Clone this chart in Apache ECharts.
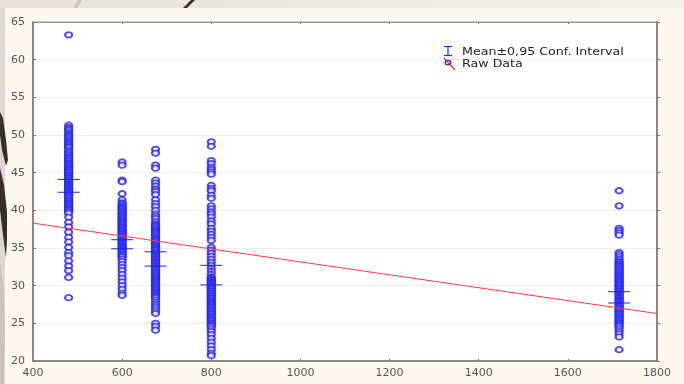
<!DOCTYPE html>
<html>
<head>
<meta charset="utf-8">
<script src="https://cdn.jsdelivr.net/npm/echarts@6/dist/echarts.min.js"></script>
<style>
  html, body { margin: 0; padding: 0; background: #e9e5e3; }
  #chart { width: 684px; height: 384px; }
</style>
</head>
<body>
<div id="chart"></div>
<script>
// Group positions on the x axis
const groupX = [480, 600, 675, 800, 1715];

// Raw observations per group
const raw480 = [63.3, 51.3, 51.0, 50.8, 50.6, 50.3, 50.1, 49.9, 49.7, 49.5, 49.3, 49.1, 48.9, 48.8, 48.6,
  48.4, 48.3, 48.0, 47.8, 47.6, 47.4, 47.2, 47.0, 46.9, 46.7, 46.5, 46.3, 46.2, 46.0, 45.9, 45.7, 45.6,
  45.4, 45.3, 45.1, 45.0, 44.8, 44.6, 44.5, 44.3, 44.2, 44.0, 43.9, 43.7, 43.5, 43.4, 43.2, 43.1, 42.9,
  42.8, 42.6, 42.4, 42.3, 42.1, 42.0, 41.8, 41.7, 41.5, 41.3, 41.2, 41.0, 40.9, 40.7, 40.6, 40.4, 40.3,
  40.1, 40.0, 39.8, 39.6, 39.1, 38.4, 37.8, 37.1, 36.4, 35.8, 35.1, 34.4, 34.0, 33.3, 32.6, 32.0, 31.1, 28.4];
const raw600 = [46.4, 46.0, 44.0, 43.8, 42.2, 41.4, 41.0, 40.9, 40.7, 40.5, 40.4, 40.2, 40.1, 39.9, 39.8,
  39.6, 39.5, 39.3, 39.2, 39.0, 38.9, 38.7, 38.6, 38.4, 38.3, 38.1, 38.0, 37.8, 37.7, 37.5, 37.4, 37.2,
  37.1, 36.9, 36.8, 36.6, 36.5, 36.3, 36.2, 36.0, 35.9, 35.7, 35.6, 35.4, 35.3, 35.1, 35.0, 34.8, 34.7,
  34.5, 34.4, 34.2, 34.1, 33.9, 33.8, 33.5, 33.2, 32.8, 32.4, 32.0, 31.5, 31.0, 30.5, 30.0, 29.5, 29.0, 28.7];
const raw675 = [48.1, 47.6, 46.0, 45.6, 44.0, 43.6, 43.2, 42.8, 42.5, 42.1, 41.4, 40.9, 40.5, 40.0, 39.5,
  39.2, 38.9, 38.5, 38.2, 38.0, 37.9, 37.7, 37.5, 37.3, 37.2, 37.0, 36.9, 36.7, 36.5, 36.3, 36.2, 36.0,
  35.9, 35.7, 35.6, 35.4, 35.3, 35.1, 35.0, 34.8, 34.7, 34.5, 34.4, 34.2, 34.1, 33.9, 33.8, 33.6, 33.5,
  33.3, 33.2, 33.0, 32.9, 32.7, 32.6, 32.4, 32.3, 32.1, 32.0, 31.8, 31.7, 31.5, 31.4, 31.2, 31.1, 30.9,
  30.8, 30.6, 30.5, 30.3, 30.2, 30.0, 29.9, 29.7, 29.6, 29.4, 29.3, 29.1, 29.0, 28.8, 28.7, 28.5, 28.4,
  28.1, 27.8, 27.5, 27.2, 26.9, 26.6, 26.3, 25.0, 24.6, 24.1];
const raw800 = [49.1, 48.5, 46.6, 46.2, 45.7, 45.4, 45.1, 44.8, 43.3, 42.9, 42.6, 42.0, 41.6, 40.6, 40.2,
  39.8, 39.5, 39.1, 38.6, 38.2, 37.6, 37.2, 36.8, 36.4, 36.0, 35.1, 34.7, 34.3, 33.9, 33.5, 33.1, 32.7,
  32.3, 31.9, 31.5, 31.1, 31.0, 30.8, 30.7, 30.5, 30.4, 30.2, 30.1, 29.9, 29.8, 29.6, 29.5, 29.3, 29.2,
  29.0, 28.9, 28.7, 28.6, 28.4, 28.3, 28.1, 28.0, 27.8, 27.7, 27.5, 27.4, 27.2, 27.1, 26.9, 26.8, 26.6,
  26.5, 26.3, 26.2, 26.0, 25.9, 25.7, 25.6, 25.4, 25.3, 25.1, 25.0, 24.8, 24.7, 24.5, 24.2, 23.9, 23.5,
  23.0, 22.5, 22.0, 21.5, 21.0, 20.7];
const raw1715 = [42.6, 40.6, 37.6, 37.3, 37.0, 36.7, 34.4, 34.1, 33.8, 33.5, 33.2, 33.1, 32.9, 32.8, 32.6,
  32.5, 32.3, 32.2, 32.0, 31.9, 31.7, 31.6, 31.4, 31.3, 31.1, 31.0, 30.8, 30.7, 30.5, 30.4, 30.2, 30.1,
  29.9, 29.8, 29.6, 29.5, 29.3, 29.2, 29.0, 28.9, 28.7, 28.6, 28.4, 28.3, 28.1, 28.0, 27.8, 27.7, 27.5,
  27.4, 27.2, 27.1, 26.9, 26.8, 26.6, 26.5, 26.3, 26.2, 26.0, 25.9, 25.7, 25.6, 25.4, 25.3, 25.1, 25.0,
  24.8, 24.7, 24.5, 24.2, 23.9, 23.6, 23.2, 21.5];

// 0.95 confidence interval of the mean per group
const ciLow  = [42.4, 34.9, 32.6, 30.1, 27.7];
const ciHigh = [44.1, 36.1, 34.5, 32.7, 29.2];

// Fitted regression line end points
const regX = [400, 1800];
const regY = [38.3, 26.3];

// Axis ticks
const xTicks = [400, 600, 800, 1000, 1200, 1400, 1600, 1800];
const yTicks = [20, 25, 30, 35, 40, 45, 50, 55, 60, 65];

const rawGroups = [raw480, raw600, raw675, raw800, raw1715];
const rawPoints = [];
rawGroups.forEach((vals, i) => vals.forEach(v => rawPoints.push([groupX[i], v])));
const ciData = groupX.map((x, i) => [x, ciLow[i], ciHigh[i]]);
const regData = regX.map((x, i) => [x, regY[i]]);

const BLUE = '#2222ff';
const labelFont = { fontFamily: 'DejaVu Sans', fontSize: 11, color: '#555' };
const legendFont = '11px "DejaVu Sans"';
const LZ = 100; // legend drawn above the plot area

const chart = echarts.init(document.getElementById('chart'));
chart.setOption({
  animation: false,
  backgroundColor: '#e9e5e3',
  graphic: [
    // slide backdrop
    { type: 'rect', z: -10, shape: { x: 0, y: 0, width: 684, height: 8 },
      style: { fill: new echarts.graphic.LinearGradient(0, 0, 1, 0, [
        { offset: 0, color: '#e6e1df' }, { offset: 1, color: '#f3f1f0' }]) } },
    { type: 'rect', z: -10, shape: { x: 0, y: 8, width: 5, height: 376 }, style: { fill: '#ddd6d4' } },
    { type: 'rect', z: -9, shape: { x: 5, y: 8, width: 679, height: 376 }, style: { fill: '#fdf9ef' } },
    { type: 'polygon', z: -8, shape: { points: [[78, 0], [82, 0], [77, 8], [73, 8]] }, style: { fill: '#cdc6c3' } },
    { type: 'polygon', z: -8, shape: { points: [[191, 0], [195, 0], [187, 8], [183, 8]] }, style: { fill: '#3a2e28' } },
    { type: 'polygon', z: -8, shape: { points: [[0, 112], [3, 118], [6, 140], [8, 160], [6, 166], [2, 150], [0, 135]] }, style: { fill: '#3a2e28' } },
    { type: 'polygon', z: -8, shape: { points: [[0, 168], [4, 185], [7, 212], [7, 240], [6, 258], [3, 235], [0, 210]] }, style: { fill: '#3a2e28' } },
    { type: 'polygon', z: -8, shape: { points: [[0, 262], [4, 290], [5, 330], [4, 384], [0, 384]] }, style: { fill: '#cbc3c0' } },
    // legend
    { type: 'line', z: LZ, shape: { x1: 444, y1: 46.5, x2: 452, y2: 46.5 }, style: { stroke: BLUE, lineWidth: 1.2 } },
    { type: 'line', z: LZ, shape: { x1: 448, y1: 46.5, x2: 448, y2: 55.5 }, style: { stroke: BLUE, lineWidth: 1.2 } },
    { type: 'line', z: LZ, shape: { x1: 444, y1: 55.5, x2: 452, y2: 55.5 }, style: { stroke: BLUE, lineWidth: 1.2 } },
    { type: 'ellipse', z: LZ, shape: { cx: 448, cy: 62.5, rx: 2.8, ry: 2.2 }, style: { fill: 'none', stroke: BLUE, lineWidth: 1.3 } },
    { type: 'line', z: LZ + 1, shape: { x1: 444, y1: 58, x2: 455, y2: 70 }, style: { stroke: '#ff2020', lineWidth: 1.2 } },
    { type: 'text', z: LZ, x: 462, y: 52, scaleX: 1.15, style: { text: 'Mean±0,95 Conf. Interval', font: legendFont, fill: '#222', verticalAlign: 'middle' } },
    { type: 'text', z: LZ, x: 462, y: 64, scaleX: 1.15, style: { text: 'Raw Data', font: legendFont, fill: '#222', verticalAlign: 'middle' } }
  ],
  grid: { left: 33, right: 27, top: 22, bottom: 23, show: true, backgroundColor: '#ffffff', borderColor: '#999', borderWidth: 1 },
  xAxis: [
    { type: 'value', position: 'bottom', min: 400, max: 1800, interval: 200,
      axisLine: { lineStyle: { color: '#888', width: 2 } },
      axisTick: { inside: true, length: 2, lineStyle: { color: '#777' } },
      axisLabel: Object.assign({ margin: 7, formatter: v => xTicks.includes(v) ? String(v) : '' }, labelFont),
      splitLine: { show: false } },
    { type: 'value', position: 'top', min: 400, max: 1800, interval: 200,
      axisLine: { lineStyle: { color: '#999', width: 1 } },
      axisTick: { inside: true, length: 2, lineStyle: { color: '#777' } },
      axisLabel: { show: false }, splitLine: { show: false } }
  ],
  yAxis: [
    { type: 'value', position: 'left', min: 20, max: 65, interval: 5,
      axisLine: { show: true, lineStyle: { color: '#888', width: 2 } },
      axisTick: { show: true, inside: true, length: 3, lineStyle: { color: '#777' } },
      axisLabel: Object.assign({ margin: 8, formatter: v => yTicks.includes(v) ? String(v) : '' }, labelFont),
      splitLine: { show: true, lineStyle: { color: '#ececec', width: 1 } } },
    { type: 'value', position: 'right', min: 20, max: 65, interval: 5,
      axisLine: { show: true, lineStyle: { color: '#888', width: 2 } },
      axisTick: { show: true, inside: false, length: 3, lineStyle: { color: '#777' } },
      axisLabel: { show: false }, splitLine: { show: false } }
  ],
  series: [
    { name: 'Raw Data', type: 'scatter', data: rawPoints, symbol: 'emptyCircle', symbolSize: [7, 5.5],
      itemStyle: { color: BLUE, borderColor: BLUE, borderWidth: 1.2 }, z: 3 },
    { name: 'Fit', type: 'line', data: regData, symbol: 'none',
      lineStyle: { color: '#ff3b3b', width: 1 }, z: 4 },
    { name: 'Mean±0,95 Conf. Interval', type: 'custom', data: ciData, z: 5,
      renderItem: (params, api) => {
        const lo = api.coord([api.value(0), api.value(1)]);
        const hi = api.coord([api.value(0), api.value(2)]);
        const half = 11;
        const st = { stroke: BLUE, lineWidth: 1 };
        return { type: 'group', children: [
          { type: 'line', shape: { x1: lo[0] - half, y1: lo[1], x2: lo[0] + half, y2: lo[1] }, style: st },
          { type: 'line', shape: { x1: hi[0] - half, y1: hi[1], x2: hi[0] + half, y2: hi[1] }, style: st },
          { type: 'line', shape: { x1: lo[0], y1: lo[1], x2: hi[0], y2: hi[1] }, style: st }
        ] };
      } }
  ]
});
</script>
</body>
</html>
